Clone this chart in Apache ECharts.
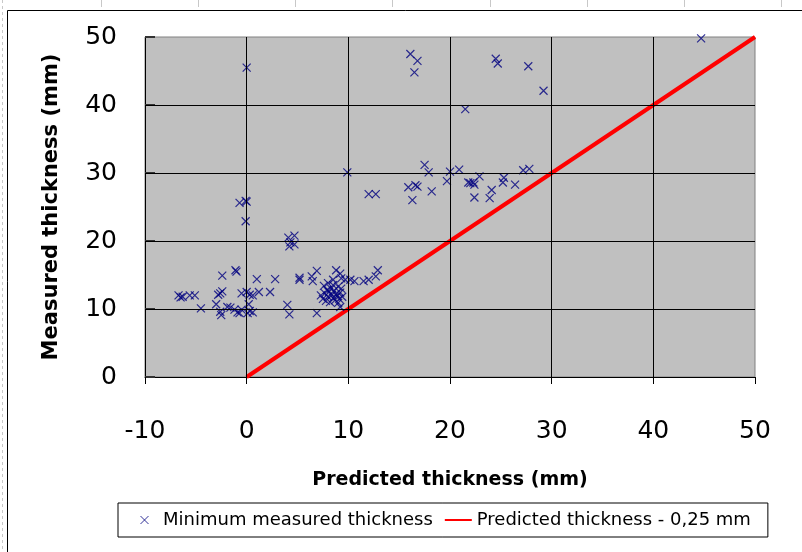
<!DOCTYPE html>
<html>
<head>
<meta charset="utf-8">
<script src="https://cdn.jsdelivr.net/npm/echarts@6/dist/echarts.min.js"></script>
<style>html,body{margin:0;padding:0;background:#fff;}#c{width:802px;height:552px;}</style>
</head>
<body>
<div id="c"></div>
<script>
// Predicted thickness (mm) per measured point
const predicted = [
  -6.7,-6.5,-6.3,-5.6,-5.1,-4.5,-3.0,-2.8,-2.6,-2.4,-2.4,-1.1,-1.0,
  -2.6,-2.5,-1.9,-1.6,-1.2,-0.9,-0.7,-0.5,
  1.0,-0.5,0.0,0.3,0.6,1.2,0.2,0.3,0.6,0.1,2.3,2.8,
  0.0,-0.7,0.0,-0.1,-0.1,
  4.1,4.7,4.3,4.7,4.2,
  5.2,5.2,6.9,6.4,6.5,4.0,4.2,6.9,
  7.3,7.5,7.7,7.8,7.9,8.0,8.1,8.2,8.3,8.4,8.5,8.6,8.7,8.8,8.9,9.0,9.1,9.2,9.4,7.6,8.0,8.5,9.3,
  8.8,9.2,8.5,9.3,9.7,10.2,10.6,11.5,12.0,12.7,12.9,9.2,9.0,
  9.9,12.0,12.7,
  17.5,17.9,15.9,16.6,16.8,16.3,18.2,19.7,20.0,20.9,21.8,22.0,22.3,22.4,22.9,22.4,24.1,23.9,25.3,25.2,26.4,27.2,27.8,
  16.1,16.8,16.5,24.5,24.7,27.7,29.2,21.5,44.7
];
// Minimum measured thickness (mm)
const measured = [
  12.0,11.7,11.8,12.0,12.0,10.1,10.7,12.1,12.3,12.6,14.9,15.7,15.5,
  9.6,9.1,10.3,10.2,9.9,9.5,9.4,9.9,
  14.4,12.3,12.5,12.1,12.0,12.5,10.7,9.7,9.5,9.4,12.5,14.4,
  45.5,25.6,25.8,25.9,22.9,
  20.5,20.8,19.8,19.5,19.2,
  14.6,14.3,15.6,14.8,14.1,10.6,9.2,9.4,
  12.0,11.5,12.3,11.2,12.8,11.8,12.5,11.0,13.0,12.1,11.6,12.7,11.3,12.2,11.9,13.3,11.5,12.4,11.8,13.4,13.8,13.5,13.0,
  15.7,15.2,14.3,14.5,14.3,14.3,14.1,14.1,14.3,14.8,15.7,10.3,10.9,
  30.1,26.9,26.9,
  31.2,30.1,27.9,28.2,28.0,26.0,27.3,28.8,30.2,30.5,28.6,28.5,28.6,28.3,29.5,26.4,27.5,26.3,29.3,28.6,28.3,30.4,30.6,
  47.5,46.5,44.8,46.8,46.1,45.7,42.1,39.4,49.8
];
// Reference line: predicted thickness - 0,25 mm
const lineX = [0, 50];
const lineY = [0, 50];
const xTicks = [-10, 0, 10, 20, 30, 40, 50];
const yTicks = [0, 10, 20, 30, 40, 50];
const xGrid = [0, 10, 20, 30, 40];
const yGrid = [10, 20, 30, 40];

const seriesNames = ['Minimum measured thickness', 'Predicted thickness - 0,25 mm'];
const FONT = '"DejaVu Sans", Verdana, sans-serif';
const X_ICON = 'path://M0,0L10,10M10,0L0,10';
const LINE_ICON = 'path://M0,0h27v2h-27z';

const scatterData = predicted.map((x, i) => [x, measured[i]]);
const lineData = lineX.map((x, i) => [x, lineY[i]]);
const gridMarks = xGrid.map(v => ({ xAxis: v })).concat(yGrid.map(v => ({ yAxis: v })));

const topTicks = [101, 198, 295, 392, 490, 587, 684, 781].map(x => ({
  type: 'line', silent: true,
  shape: { x1: x + 0.5, y1: 0, x2: x + 0.5, y2: 7 },
  style: { stroke: '#c8c8c8', lineWidth: 1 }
}));

const chart = echarts.init(document.getElementById('c'), null, { renderer: 'canvas' });
chart.setOption({
  animation: false,
  backgroundColor: '#fff',
  textStyle: { fontFamily: FONT, color: '#000' },
  graphic: [
    { type: 'rect', silent: true, z: -10,
      shape: { x: 7.5, y: 10.5, width: 900, height: 700 },
      style: { fill: 'none', stroke: '#000', lineWidth: 1 } },
    { type: 'line', silent: true, z: -10,
      shape: { x1: 2.5, y1: 0, x2: 2.5, y2: 552 },
      style: { stroke: '#c8c8c8', lineWidth: 1, lineDash: [3, 3] } }
  ].concat(topTicks),
  grid: {
    left: 145, right: 47, top: 37, bottom: 175,
    show: true, backgroundColor: '#c0c0c0', borderColor: '#808080', borderWidth: 1
  },
  xAxis: {
    type: 'value', min: xTicks[0], max: xTicks[xTicks.length - 1], interval: 10,
    name: 'Predicted thickness (mm)', nameLocation: 'middle', nameGap: 94,
    nameTextStyle: { fontFamily: FONT, fontSize: 19, fontWeight: 'bold', color: '#000' },
    axisLine: { onZero: false, lineStyle: { color: '#000', width: 1 } },
    axisTick: { show: true, inside: false, length: 7, lineStyle: { color: '#000' } },
    axisLabel: { fontFamily: FONT, fontSize: 25, color: '#000', margin: 42 },
    splitLine: { show: false }
  },
  yAxis: {
    type: 'value', min: yTicks[0], max: yTicks[yTicks.length - 1], interval: 10,
    name: 'Measured thickness (mm)', nameLocation: 'middle', nameGap: 83,
    nameTextStyle: { fontFamily: FONT, fontSize: 21, fontWeight: 'bold', color: '#000' },
    axisLine: { onZero: false, lineStyle: { color: '#000', width: 1 } },
    axisTick: { show: true, inside: true, length: 10, lineStyle: { color: '#333', width: 2 } },
    axisLabel: { fontFamily: FONT, fontSize: 25, color: '#000', margin: 28 },
    splitLine: { show: false }
  },
  legend: {
    left: 118, top: 503,
    orient: 'horizontal',
    padding: [8, 17, 8, 22],
    borderColor: '#000', borderWidth: 1,
    itemGap: 12, itemWidth: 27, itemHeight: 8,
    textStyle: { fontFamily: FONT, fontSize: 18, color: '#000' },
    data: [
      { name: seriesNames[0], icon: X_ICON,
        itemStyle: { color: 'transparent', borderColor: '#000080', borderWidth: 1 } },
      { name: seriesNames[1], icon: LINE_ICON, itemStyle: { color: '#ff0000' } }
    ]
  },
  series: [
    {
      name: 'grid', type: 'line', data: [], silent: true, z: 1,
      markLine: {
        silent: true, symbol: ['none', 'none'], label: { show: false },
        lineStyle: { color: '#000', width: 1, type: 'solid' },
        emphasis: { disabled: true },
        data: gridMarks
      }
    },
    {
      name: seriesNames[1], type: 'line', data: lineData, z: 3,
      symbol: 'none', lineStyle: { color: '#ff0000', width: 4 },
      itemStyle: { color: '#ff0000' }
    },
    {
      name: seriesNames[0], type: 'scatter', data: scatterData, z: 4,
      symbol: X_ICON, symbolSize: 8,
      itemStyle: { color: 'transparent', borderColor: '#000080', borderWidth: 1.2 }
    }
  ]
});
</script>
</body>
</html>
